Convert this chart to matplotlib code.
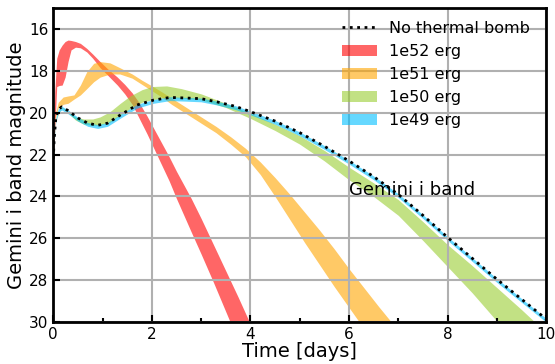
import matplotlib.pyplot as plt
import numpy as np
from matplotlib.ticker import MultipleLocator

# No thermal bomb (dotted line)
t_ref = [0, 0.02, 0.05, 0.1, 0.17, 0.3, 0.5, 0.7, 0.9, 1.1, 1.36, 1.7, 2.03, 2.37, 2.71, 3.0, 3.32, 3.7, 4.0,
         4.5, 5.0, 5.5, 6.0, 6.5, 7.0, 7.5, 8.0, 8.5, 9.0, 9.5, 10.0]
m_ref = [22.2, 21.2, 20.3, 19.85, 19.72, 19.9, 20.25, 20.5, 20.6, 20.5, 20.11, 19.63, 19.4, 19.27, 19.3, 19.33, 19.48, 19.7, 19.95,
         20.4, 20.95, 21.6, 22.3, 23.05, 23.9, 24.9, 25.95, 26.95, 27.95, 28.9, 29.85]

# 1e52 erg
t_52 = [0, 0.03, 0.07, 0.12, 0.18, 0.24, 0.3, 0.36, 0.45, 0.55, 0.68, 0.8, 0.95, 1.1, 1.3, 1.45, 1.6, 1.75, 1.9,
        2.05, 2.2, 2.35, 2.5, 2.65, 2.8, 3.0, 3.25, 3.5, 3.75, 4.0]
lo_52 = [22.0, 19.0, 17.4, 17.0, 16.77, 16.6, 16.53, 16.55, 16.6, 16.69, 16.93, 17.2, 17.56, 17.9, 18.3, 18.65, 19.05, 19.55, 20.15,
         20.8, 21.45, 22.1, 22.8, 23.45, 24.1, 25.05, 26.3, 27.55, 28.8, 30.1]
hi_52 = [22.2, 20.8, 18.75, 18.7, 18.68, 18.3, 17.55, 17.0, 16.87, 16.9, 17.1, 17.4, 17.85, 18.2, 18.68, 19.1, 19.6, 20.3, 21.0,
         21.75, 22.5, 23.25, 24.1, 24.9, 25.7, 26.75, 28.1, 29.5, 30.9, 32.2]

# 1e51 erg
t_51 = [0, 0.04, 0.1, 0.2, 0.3, 0.42, 0.55, 0.68, 0.82, 0.95, 1.15, 1.35, 1.6, 1.8, 2.0, 2.2, 2.4, 2.7, 3.0, 3.3,
        3.6, 3.9, 4.2, 4.5, 4.8, 5.1, 5.4, 5.7, 6.0, 6.3, 6.6, 7.0]
lo_51 = [22.0, 20.1, 19.5, 19.25, 19.2, 19.15, 18.68, 18.04, 17.64, 17.56, 17.62, 17.85, 18.15, 18.45, 18.72, 19.0, 19.3, 19.75, 20.2, 20.65,
         21.15, 21.7, 22.35, 23.1, 23.9, 24.75, 25.6, 26.5, 27.45, 28.35, 29.25, 30.4]
hi_51 = [22.2, 20.3, 19.75, 19.6, 19.55, 19.35, 19.15, 18.85, 18.52, 18.3, 18.15, 18.15, 18.35, 18.65, 18.95, 19.25, 19.6, 20.05, 20.5, 20.95,
         21.5, 22.1, 22.95, 24.0, 25.1, 26.2, 27.25, 28.3, 29.3, 30.3, 31.3, 32.6]

# 1e50 erg
t_50 = [0, 0.05, 0.17, 0.3, 0.45, 0.62, 0.8, 0.95, 1.15, 1.36, 1.56, 1.8, 2.0, 2.3, 2.6, 3.0, 3.5, 4.0, 4.5, 5.0,
        5.5, 6.0, 6.5, 7.0, 7.5, 8.0, 8.5, 9.0, 9.5, 10.0]
lo_50 = [22.2, 20.3, 19.72, 19.95, 20.2, 20.3, 20.3, 20.2, 19.95, 19.55, 19.2, 18.9, 18.75, 18.72, 18.85, 19.1, 19.55, 20.03, 20.55, 21.1,
         21.8, 22.6, 23.35, 24.15, 25.2, 26.3, 27.3, 28.35, 29.4, 30.5]
hi_50 = [22.2, 20.35, 19.75, 20.0, 20.35, 20.55, 20.6, 20.58, 20.45, 20.1, 19.8, 19.5, 19.38, 19.28, 19.3, 19.38, 19.75, 20.27, 20.85, 21.5,
         22.3, 23.2, 24.0, 24.9, 26.1, 27.35, 28.6, 29.95, 31.2, 32.4]

# 1e49 erg: thin band right under the reference curve
lo_49 = [m - 0.03 for m in m_ref]
hi_49 = [m + 0.15 for m in m_ref]

fig, ax = plt.subplots(figsize=(5.55, 3.64), dpi=100)
fig.subplots_adjust(left=0.096, right=0.984, top=0.978, bottom=0.115)

ax.fill_between(t_52, lo_52, hi_52, color='red', alpha=0.6, lw=0, label='1e52 erg')
ax.fill_between(t_51, lo_51, hi_51, color='orange', alpha=0.6, lw=0, label='1e51 erg')
ax.fill_between(t_50, lo_50, hi_50, color='yellowgreen', alpha=0.6, lw=0, label='1e50 erg')
ax.fill_between(t_ref, lo_49, hi_49, color='deepskyblue', alpha=0.6, lw=0, label='1e49 erg')
ax.plot(t_ref, m_ref, ':', color='black', lw=2, label='No thermal bomb')

ax.set_xlim(0, 10)
ax.set_ylim(30, 15)
ax.xaxis.set_major_locator(MultipleLocator(2))
ax.xaxis.set_minor_locator(MultipleLocator(1))
ax.yaxis.set_major_locator(MultipleLocator(2))
ax.tick_params(which='both', direction='in', labelsize=11, width=1.5)
ax.tick_params(which='major', length=5)
ax.tick_params(which='minor', length=3)
ax.grid(True, color='#b0b0b0', lw=1.5)
for s in ax.spines.values():
    s.set_linewidth(2)

ax.set_xlabel('Time [days]', fontsize=14, labelpad=0)
ax.set_ylabel('Gemini i band magnitude', fontsize=14, labelpad=2)
ax.text(6.0, 23.7, 'Gemini i band', fontsize=13, va='center')

h, l = ax.get_legend_handles_labels()
order = [4, 0, 1, 2, 3]
ax.legend([h[i] for i in order], [l[i] for i in order], loc='upper right', bbox_to_anchor=(0.981, 0.979),
          borderaxespad=0, frameon=False, fontsize=11.5, handlelength=2.2)

plt.savefig('out.png', dpi=100)
